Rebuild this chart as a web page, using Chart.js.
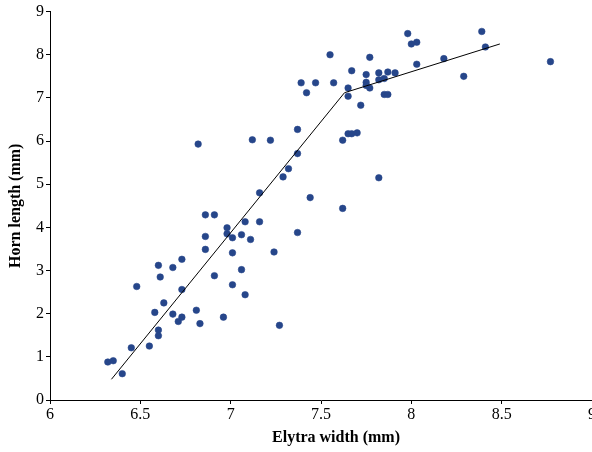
<!DOCTYPE html>
<html>
<head>
<meta charset="utf-8">
<script src="https://cdn.jsdelivr.net/npm/chart.js@4"></script>
<style>
  html, body { margin: 0; padding: 0; background: #fff; overflow: hidden; }
  #wrap { position: relative; width: 600px; height: 452px; }
</style>
</head>
<body>
<div id="wrap"><canvas id="hornChart"></canvas></div>
<script>
// Elytra width (mm) vs horn length (mm)
const elytraWidth = [
  6.32, 6.35, 6.40, 6.45, 6.55, 6.60, 6.60, 6.58, 6.63, 6.68,
  6.71, 6.73, 6.81, 6.83, 6.96, 6.73, 6.48, 7.01, 7.08, 7.27,
  6.60, 6.61, 6.68, 6.73, 6.91, 7.06, 7.01, 7.24, 6.86, 6.86,
  6.98, 6.98, 7.01, 7.06, 7.11, 7.08, 7.16, 6.86, 6.91, 7.37,
  7.16, 7.44, 7.62, 7.29, 7.32, 7.37, 7.82, 6.82, 7.12, 7.22,
  7.37, 7.62, 7.65, 7.67, 7.70, 7.72, 7.65, 7.65, 7.42, 7.39,
  7.47, 7.57, 7.55, 7.67, 7.75, 7.75, 7.77, 7.77, 7.82, 7.82,
  7.85, 7.87, 7.91, 7.85, 7.87, 7.98, 8.00, 8.03, 8.03, 8.18,
  8.29, 8.39, 8.41, 8.77, 7.75
];
const hornLength = [
  0.88, 0.91, 0.61, 1.21, 1.25, 1.62, 1.49, 2.03, 2.25, 1.99,
  1.82, 1.92, 2.08, 1.77, 1.92, 2.56, 2.63, 2.67, 2.44, 1.73,
  3.12, 2.85, 3.07, 3.26, 2.88, 3.02, 3.41, 3.43, 3.49, 3.79,
  3.85, 3.99, 3.76, 3.83, 3.72, 4.13, 4.13, 4.29, 4.29, 3.88,
  4.80, 4.69, 4.44, 5.17, 5.36, 5.71, 5.15, 5.93, 6.03, 6.02,
  6.27, 6.02, 6.17, 6.17, 6.19, 6.83, 7.04, 7.23, 7.12, 7.35,
  7.35, 7.35, 8.00, 7.63, 7.54, 7.36, 7.23, 7.94, 7.58, 7.42,
  7.45, 7.60, 7.58, 7.08, 7.08, 8.49, 8.25, 8.29, 7.78, 7.91,
  7.50, 8.54, 8.18, 7.84, 7.29
];

// broken-stick fit
const fitX = [6.34, 7.63, 8.49];
const fitY = [0.48, 7.12, 8.25];

const xTitle = 'Elytra width (mm)';
const yTitle = 'Horn length (mm)';

const serif = "'Liberation Serif', 'Times New Roman', serif";

// x title sits a bit right of the axis centre in the original
const xTitlePlugin = {
    id: 'xTitle',
    afterDraw(chart) {
        const c = chart.ctx;
        c.save();
        c.font = `bold 16px ${serif}`;
        c.fillStyle = '#000';
        c.textAlign = 'center';
        c.textBaseline = 'middle';
        c.fillText(xTitle, 336, 438);
        c.restore();
    }
};

const ctx = document.getElementById('hornChart');

new Chart(ctx, {
    type: 'scatter',
    data: {
        datasets: [
            {
                label: 'Beetles',
                data: elytraWidth.map((w, i) => ({ x: w, y: hornLength[i] })),
                backgroundColor: '#26468a',
                borderColor: 'rgba(38, 70, 138, 0.55)',
                borderWidth: 1,
                pointRadius: 3.3,
                order: 2
            },
            {
                label: 'Fit',
                type: 'line',
                data: fitX.map((w, i) => ({ x: w, y: fitY[i] })),
                borderColor: '#000',
                borderWidth: 1,
                pointRadius: 0,
                fill: false,
                tension: 0,
                order: 1
            }
        ]
    },
    options: {
        responsive: true,
        maintainAspectRatio: false,
        animation: false,
        layout: {
            padding: { top: 10, right: 8, left: 0, bottom: 0 }
        },
        plugins: {
            legend: { display: false },
            tooltip: { enabled: false }
        },
        scales: {
            x: {
                type: 'linear',
                min: 6,
                max: 9,
                afterFit: (scale) => { scale.height = 52; },
                border: { display: true, color: '#000', width: 1 },
                grid: {
                    drawOnChartArea: false,
                    drawTicks: true,
                    tickLength: 4,
                    color: '#000'
                },
                ticks: {
                    stepSize: 0.5,
                    color: '#000',
                    padding: 1,
                    maxRotation: 0,
                    callback: (v) => String(Math.round(v * 10) / 10),
                    font: { family: serif, size: 16 }
                },
                title: { display: false }
            },
            y: {
                type: 'linear',
                min: 0,
                max: 9,
                afterFit: (scale) => { scale.width = 50; },
                border: { display: true, color: '#000', width: 1 },
                grid: {
                    drawOnChartArea: false,
                    drawTicks: true,
                    tickLength: 4,
                    color: '#000'
                },
                ticks: {
                    stepSize: 1,
                    color: '#000',
                    padding: 2,
                    font: { family: serif, size: 16 }
                },
                title: {
                    display: true,
                    text: yTitle,
                    color: '#000',
                    padding: { top: 6, bottom: 0 },
                    font: { family: serif, size: 16, weight: 'bold' }
                }
            }
        }
    },
    plugins: [xTitlePlugin]
});
</script>
</body>
</html>
